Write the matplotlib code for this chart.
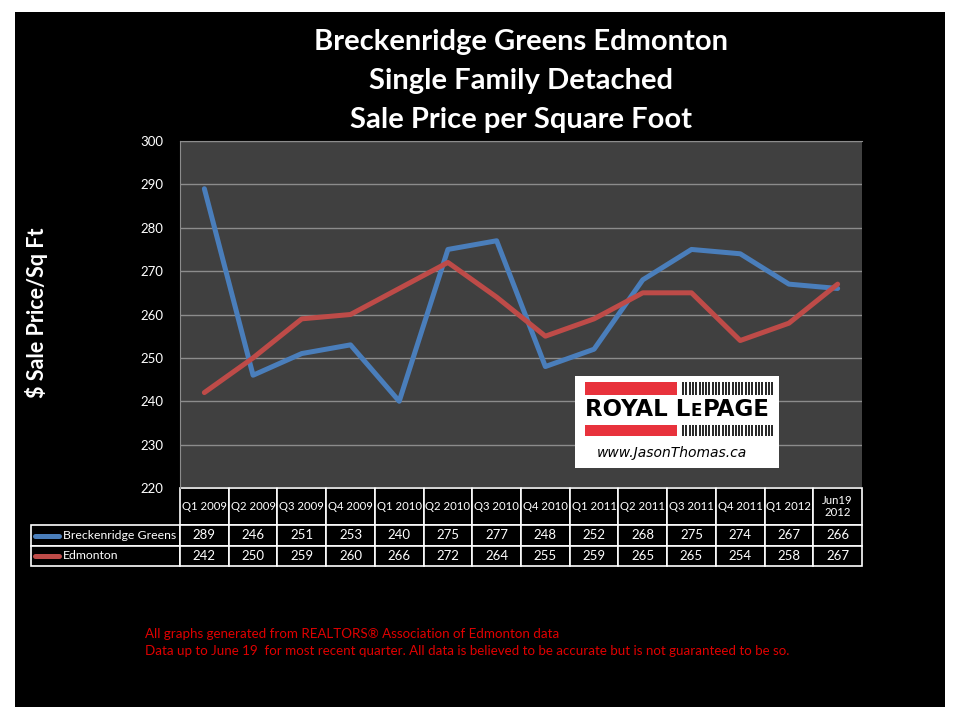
import matplotlib.pyplot as plt
from matplotlib.patches import Rectangle
import numpy as np

plt.rcParams['font.family'] = ['Lato', 'DejaVu Sans']

quarters = ['Q1 2009', 'Q2 2009', 'Q3 2009', 'Q4 2009', 'Q1 2010', 'Q2 2010',
            'Q3 2010', 'Q4 2010', 'Q1 2011', 'Q2 2011', 'Q3 2011', 'Q4 2011',
            'Q1 2012', 'Jun19\n2012']
breckenridge = [289, 246, 251, 253, 240, 275, 277, 248, 252, 268, 275, 274, 267, 266]
edmonton = [242, 250, 259, 260, 266, 272, 264, 255, 259, 265, 265, 254, 258, 267]
series_names = ['Breckenridge Greens', 'Edmonton']
blue = '#4a7ebb'
red = '#be4b48'

W, H = 960, 720
fig = plt.figure(figsize=(9.6, 7.2), dpi=100, facecolor='white')

# black slide background with a thin white margin
fig.patches.append(Rectangle((15 / W, 1 - 707 / H), 930 / W, 695 / H,
                             transform=fig.transFigure, facecolor='black',
                             edgecolor='none', zorder=-10))

ax = fig.add_axes([180 / W, 1 - 488 / H, 682 / W, 347 / H])
ax.set_facecolor('#404040')
x = np.arange(len(quarters))
ax.plot(x, breckenridge, color=blue, lw=3.6, solid_capstyle='round', zorder=3)
ax.plot(x, edmonton, color=red, lw=3.6, solid_capstyle='round', zorder=3)
ax.set_xlim(-0.5, len(quarters) - 0.5)
ax.set_ylim(220, 300)
ax.set_yticks(range(220, 301, 10))
ax.yaxis.grid(True, color='#8c8c8c', lw=1)
ax.set_axisbelow(True)
ax.set_xticks([])
ax.tick_params(axis='y', colors='white', labelsize=9.5, length=0, pad=12)
for s in ax.spines.values():
    s.set_color('#8c8c8c')
ax.spines['bottom'].set_visible(False)
ax.spines['right'].set_visible(False)

# data table under the plot
cells = [[''] + quarters,
         [series_names[0]] + [str(v) for v in breckenridge],
         [series_names[1]] + [str(v) for v in edmonton]]
ax_w, ax_h = 682, 347
lab_w = 149
tbl = ax.table(cellText=cells,
               colWidths=[lab_w] + [(ax_w) / len(quarters)] * len(quarters),
               cellLoc='center',
               bbox=[-lab_w / ax_w, -78 / ax_h, (lab_w + ax_w) / ax_w, 78 / ax_h])
tbl.auto_set_font_size(False)
for (r, c), cell in tbl.get_celld().items():
    cell.set_facecolor('black')
    cell.set_edgecolor('white')
    cell.set_linewidth(1.2)
    cell.get_text().set_color('white')
    if r == 0:
        fs = 8.2
    elif c == 0:
        fs = 8.8
    else:
        fs = 9.5
    cell.get_text().set_fontsize(fs)
    cell.set_height(37 if r == 0 else 20.5)
    if r == 0 and c == 0:
        cell.visible_edges = ''
    if c == 0 and r > 0:
        cell.get_text().set_horizontalalignment('left')
        cell.PAD = 0.215
for r, col in ((1, blue), (2, red)):
    yy = (-37 - 20.5 * (r - 1) - 10.5) / ax_h
    ax.plot([-145 / ax_w, -121 / ax_w], [yy, yy], transform=ax.transAxes,
            color=col, lw=3.6, solid_capstyle='round', clip_on=False)

# titles
for i, t in enumerate(['Breckenridge Greens Edmonton', 'Single Family Detached',
                       'Sale Price per Square Foot']):
    fig.text(521 / W, 1 - (42 + 39 * i) / H, t, color='white', fontsize=21,
             fontweight='bold', ha='center', va='center')
fig.text(37 / W, 1 - 313 / H, '$ Sale Price/Sq Ft', color='white', fontsize=15.5,
         fontweight='bold', rotation=90, ha='center', va='center')

# logo
lg = fig.add_axes([575 / W, 1 - 468 / H, 204 / W, 92 / H])
lg.set_xlim(0, 204)
lg.set_ylim(92, 0)
lg.axis('off')
lg.add_patch(Rectangle((0, 0), 204, 92, facecolor='white', edgecolor='none'))
lg.add_patch(Rectangle((10, 6), 92, 13, facecolor='#e8323c', edgecolor='none'))
lg.add_patch(Rectangle((10, 49), 92, 11, facecolor='#e8323c', edgecolor='none'))
hx = np.arange(108, 198, 3.3)
lg.vlines(hx, 6, 19, color='black', lw=1.2)
lg.vlines(hx, 49, 60, color='black', lw=1.2)
renderer = fig.canvas.get_renderer()
xpos = 10
for part, size, dy in (('ROYAL L', 16.5, 34), ('E', 12, 35.2), ('PAGE', 16.5, 34)):
    t = lg.text(xpos, dy, part, fontsize=size, fontweight='heavy', color='black',
                ha='left', va='center', family='DejaVu Sans')
    bb = t.get_window_extent(renderer).transformed(lg.transData.inverted())
    xpos = bb.x1 + 0.5
lg.text(97, 77, 'www.JasonThomas.ca', fontsize=10, style='italic',
        color='black', ha='center', va='center', family='DejaVu Sans')

# footnote
fig.text(145 / W, 1 - 634 / H, 'All graphs generated from REALTORS\u00ae Association of Edmonton data',
         color='#e00000', fontsize=9.6, va='center')
fig.text(145 / W, 1 - 651 / H, 'Data up to June 19  for most recent quarter. All data is believed to be accurate but is not guaranteed to be so.',
         color='#e00000', fontsize=9.6, va='center')

fig.savefig('out.png', dpi=100, facecolor=fig.get_facecolor())
